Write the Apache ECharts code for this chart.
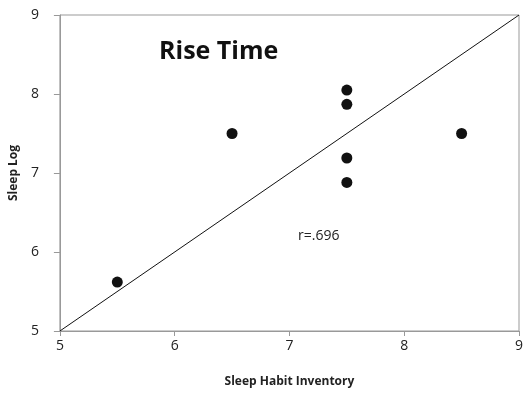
<!DOCTYPE html>
<html>
<head>
<meta charset="utf-8">
<script src="https://cdn.jsdelivr.net/npm/echarts@6/dist/echarts.min.js"></script>
<style>
  html, body { margin: 0; padding: 0; background: #fff; }
  #main { width: 530px; height: 393px; }
</style>
</head>
<body>
<div id="main"></div>
<script>
// data
var sleepHabit = [5.5, 6.5, 7.5, 7.5, 7.5, 7.5, 8.5];
var sleepLog   = [5.62, 7.5, 8.05, 7.87, 7.19, 6.88, 7.5];
var diagX = [5, 9];
var diagY = [5, 9];
var xTicks = [5, 6, 7, 8, 9];
var yTicks = [5, 6, 7, 8, 9];

var chart = echarts.init(document.getElementById('main'));

var points = sleepHabit.map(function (x, i) { return [x, sleepLog[i]]; });
var diag = diagX.map(function (x, i) { return [x, diagY[i]]; });

var font = 'Open Sans, Liberation Sans, sans-serif';

var option = {
  animation: false,
  backgroundColor: '#fff',
  grid: {
    left: 59, right: 11, top: 15, bottom: 60,
    show: true, borderColor: '#999', borderWidth: 1
  },
  graphic: [
    {
      type: 'text', left: 159, top: 39,
      style: { text: 'Rise Time', font: 'bold 25px ' + font, fill: '#111' }
    },
    {
      type: 'text', left: 298, top: 229,
      style: { text: 'r=.696', font: '14px ' + font, fill: '#222' }
    }
  ],
  xAxis: {
    type: 'value',
    min: xTicks[0], max: xTicks[xTicks.length - 1], interval: 1,
    name: 'Sleep Habit Inventory',
    nameLocation: 'middle', nameGap: 45,
    nameTextStyle: { fontFamily: font, fontWeight: 'bold', fontSize: 12, color: '#222' },
    axisLine: { lineStyle: { color: '#999' } },
    axisTick: { show: true, length: 5, inside: false, lineStyle: { color: '#999' } },
    axisLabel: { fontFamily: font, fontSize: 14, color: '#222', margin: 8,
      formatter: function (v) { return xTicks.indexOf(v) >= 0 ? String(v) : ''; } },
    splitLine: { show: false }
  },
  yAxis: {
    type: 'value',
    min: yTicks[0], max: yTicks[yTicks.length - 1], interval: 1,
    name: 'Sleep Log',
    nameLocation: 'middle', nameGap: 38,
    nameTextStyle: { fontFamily: font, fontWeight: 'bold', fontSize: 12, color: '#222' },
    axisLine: { show: true, lineStyle: { color: '#999' } },
    axisTick: { show: true, length: 6, lineStyle: { color: '#999' } },
    axisLabel: { fontFamily: font, fontSize: 14, color: '#222', margin: 21 },
    splitLine: { show: false }
  },
  series: [
    {
      type: 'line',
      data: diag,
      symbol: 'none',
      lineStyle: { color: '#111', width: 1 },
      z: 2
    },
    {
      type: 'scatter',
      data: points,
      symbol: 'circle',
      symbolSize: 11,
      itemStyle: { color: '#111', opacity: 1 },
      z: 3
    }
  ]
};
chart.setOption(option);
</script>
</body>
</html>
